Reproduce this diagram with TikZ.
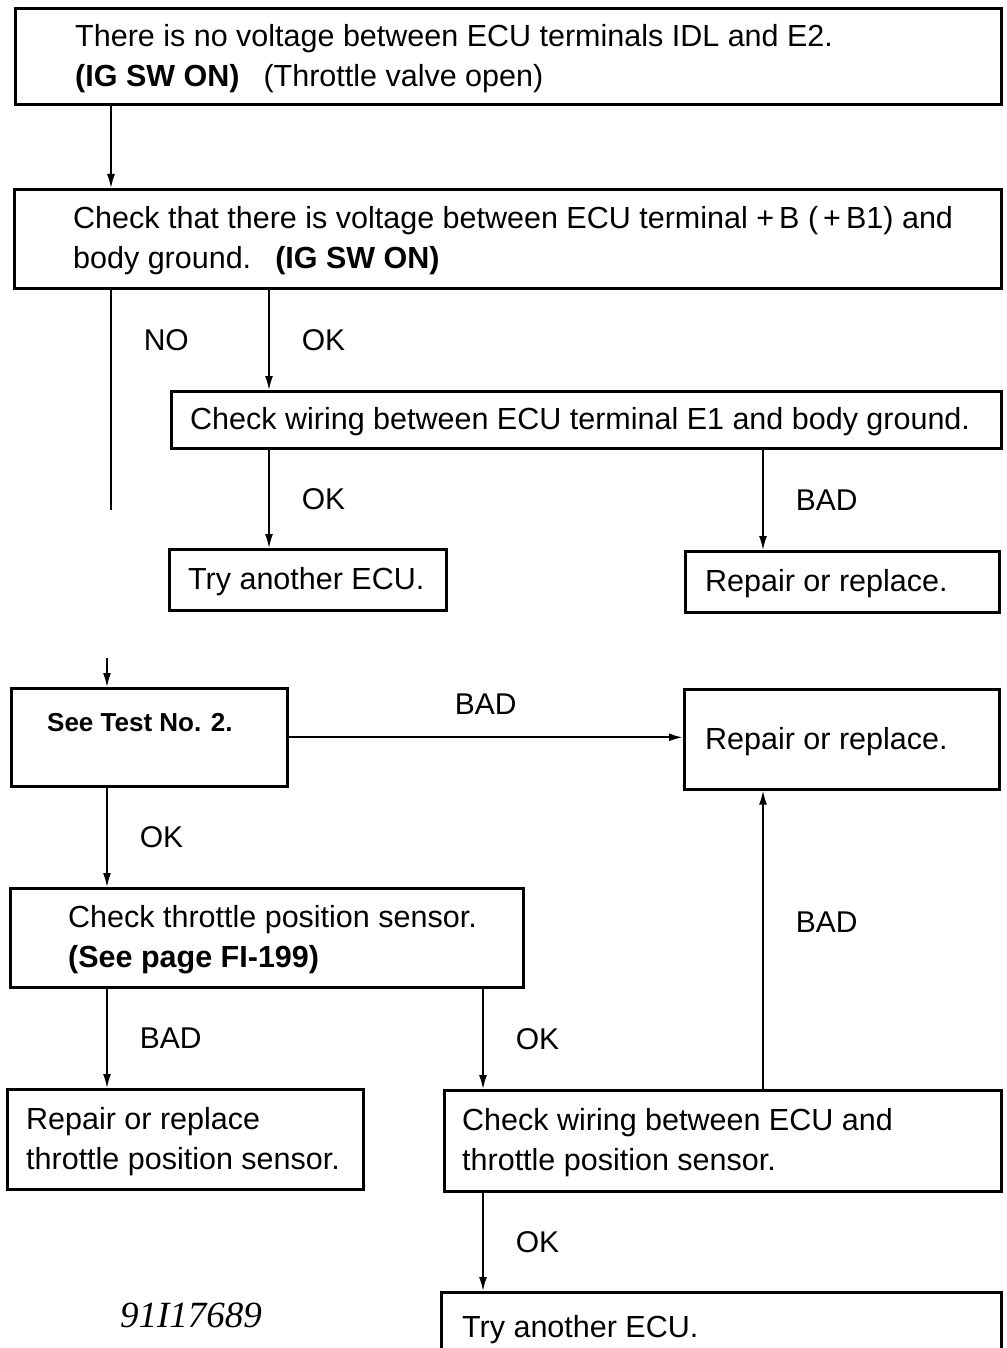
\documentclass[tikz,border=0pt]{standalone}
\usepackage{fontspec}
\setmainfont{Liberation Sans}
\newfontfamily\figfont{Liberation Serif}
\usetikzlibrary{arrows.meta}
\tikzset{
  box/.style={draw, line width=2.6pt, anchor=north west, inner sep=0pt},
  txt/.style={anchor=west, align=left, inner sep=0pt, font=\fontsize{30.5}{40}\selectfont},
  lab/.style={font=\fontsize{30}{36}\selectfont, inner sep=0pt},
  con/.style={line width=1.6pt},
  arr/.style={con, -{Latex[length=14pt,width=8pt]}},
}
\begin{document}
\begin{tikzpicture}[x=1pt,y=-1pt]
\useasboundingbox (0,0) rectangle (1006,1348);
\clip (0,0) rectangle (1006,1348);

% columns of the connectors
\coordinate (cA) at (111,0);
\coordinate (cB) at (269,0);
\coordinate (cC) at (763,0);
\coordinate (cD) at (107,0);
\coordinate (cE) at (483,0);
\coordinate (noA) at (111,510);
\coordinate (noB) at (107,658);

% upper part
\node[box, minimum width=986, minimum height=96] at (14,7) (nov) {};
\node[txt] at ([xshift=61,yshift=-2]nov.west) {There is no voltage between ECU terminals IDL and E2.\\\textbf{(IG SW ON)}\hspace{24pt}(Throttle valve open)};
\node[box, minimum width=987, minimum height=99] at (13,188) (chk) {};
\node[txt] at ([xshift=60,yshift=-2]chk.west) {Check that there is voltage between ECU terminal +\,B (\,+\,B1) and\\body ground.\hspace{24pt}\textbf{(IG SW ON)}};
\node[box, minimum width=830, minimum height=57] at (170,390) (wir) {};
\node[txt] at ([xshift=20,yshift=-2]wir.west) {Check wiring between ECU terminal E1 and body ground.};
\node[box, minimum width=277, minimum height=61] at (168,548) (try1) {};
\node[txt] at ([xshift=20,yshift=-2]try1.west) {Try another ECU.};
\node[box, minimum width=314, minimum height=61] at (684,550) (rep1) {};
\node[txt] at ([xshift=21,yshift=-2]rep1.west) {Repair or replace.};

% lower part
\node[box, minimum width=276, minimum height=98] at (10,687) (test) {};
\node[txt, font=\fontsize{26}{32}\selectfont\bfseries] at ([xshift=37,yshift=15]test.west) {See Test No. 2.};
\node[box, minimum width=315, minimum height=100] at (683,688) (rep2) {};
\node[txt] at ([xshift=22,yshift=-2]rep2.west) {Repair or replace.};
\node[box, minimum width=513, minimum height=99] at (9,887) (tps) {};
\node[txt] at ([xshift=59,yshift=-2]tps.west) {Check throttle position sensor.\\\textbf{(See page FI-199)}};
\node[box, minimum width=356, minimum height=100] at (6,1088) (rept) {};
\node[txt] at ([xshift=20,yshift=-2]rept.west) {Repair or replace\\throttle position sensor.};
\node[box, minimum width=557, minimum height=101] at (443,1089) (wirt) {};
\node[txt] at ([xshift=19,yshift=-2]wirt.west) {Check wiring between ECU and\\throttle position sensor.};
\node[box, minimum width=560, minimum height=70] at (440,1291) (try2) {};
\node[txt] at ([xshift=22,yshift=-2]try2.west) {Try another ECU.};
\node[font=\figfont\itshape\fontsize{37}{40}\selectfont] at (191,1315) (fig) {91I17689};

% connectors
\draw[arr] (nov.south -| cA) -- (chk.north -| cA);
\draw[con] (chk.south -| cA) -- node[lab, pos=0.23, right=32pt]{NO} (noA);
\draw[arr] (chk.south -| cB) -- node[lab, right=32pt]{OK} (wir.north -| cB);
\draw[arr] (wir.south -| cB) -- node[lab, right=32pt]{OK} (try1.north -| cB);
\draw[arr] (wir.south -| cC) -- node[lab, right=32pt]{BAD} (rep1.north -| cC);
\draw[arr] (noB) -- (test.north -| cD);
\draw[arr, line width=2.2pt] (test.east) -- node[lab, above=22pt]{BAD} (rep2.west |- test.east);
\draw[arr] (test.south -| cD) -- node[lab, right=32pt]{OK} (tps.north -| cD);
\draw[arr] (tps.south -| cD) -- node[lab, right=32pt]{BAD} (rept.north -| cD);
\draw[arr] (tps.south -| cE) -- node[lab, right=32pt]{OK} (wirt.north -| cE);
\draw[arr] (wirt.north -| cC) -- node[lab, pos=0.56, right=32pt]{BAD} (rep2.south -| cC);
\draw[arr] (wirt.south -| cE) -- node[lab, right=32pt]{OK} (try2.north -| cE);
\end{tikzpicture}
\end{document}
